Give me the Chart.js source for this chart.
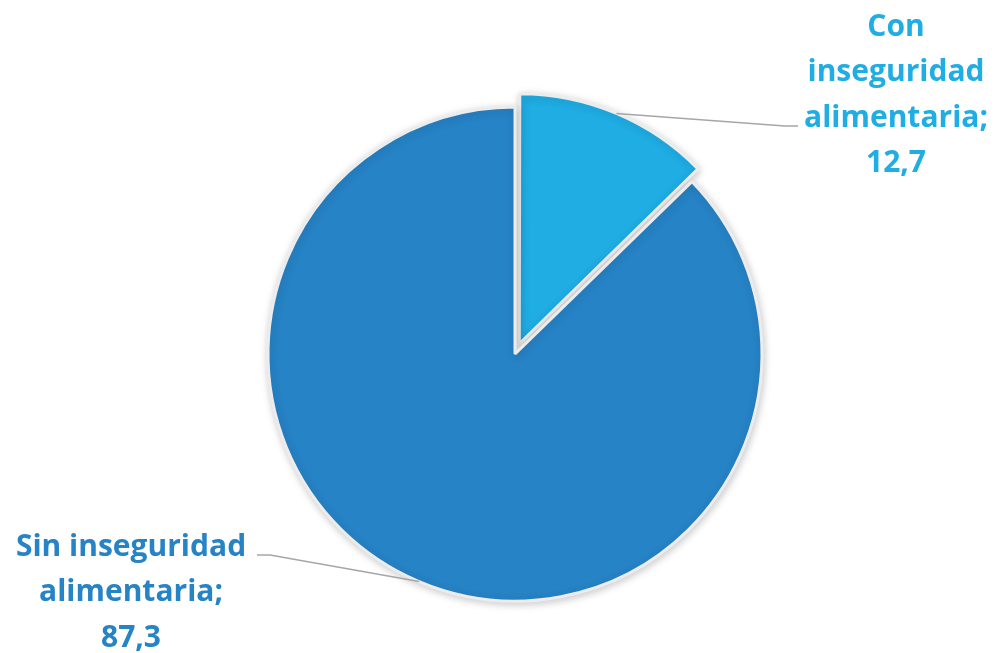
<!DOCTYPE html>
<html>
<head>
<meta charset="utf-8">
<script src="https://cdn.jsdelivr.net/npm/chart.js@4.4.1/dist/chart.umd.min.js"></script>
<style>
  html, body { margin: 0; padding: 0; background: #fff; }
  #wrap { width: 996px; height: 653px; }
</style>
</head>
<body>
<div id="wrap"><canvas id="pie" width="996" height="653"></canvas></div>
<script>
// Chart data
const categories = ['Con inseguridad alimentaria', 'Sin inseguridad alimentaria'];
const values = [12.7, 87.3];
const labelLines = [
    ['Con', 'inseguridad', 'alimentaria;'],
    ['Sin inseguridad', 'alimentaria;']
];
const sliceColors = ['#1FADE4', '#2683C6'];
const sliceOffsets = [44, 0];

// Where each label block sits and where its leader line bends
const labelBoxes = [
    { x: 896, y: 27, elbow: [785, 126], end: [798, 126] },
    { x: 131, y: 547, elbow: [270, 555], end: [257, 555] }
];

function formatValue(v) {
    return v.toFixed(1).replace('.', ',');
}

// Soft shadow under the pie
const shadowPlugin = {
    id: 'shadow',
    beforeDatasetsDraw(chart) {
        const ctx = chart.ctx;
        ctx.save();
        ctx.shadowColor = 'rgba(0,0,0,0.2)';
        ctx.shadowBlur = 8;
        ctx.shadowOffsetX = 1;
        ctx.shadowOffsetY = 2;
    },
    afterDatasetsDraw(chart) {
        chart.ctx.restore();
    }
};

// Outside labels with leader lines
const outsideLabels = {
    id: 'outsideLabels',
    afterDatasetsDraw(chart) {
        const ctx = chart.ctx;
        const meta = chart.getDatasetMeta(0);
        meta.data.forEach((arc, i) => {
            const mid = (arc.startAngle + arc.endAngle) / 2;
            const off = (sliceOffsets[i] || 0) / 4;
            const fix = 1 - Math.sin(Math.min(Math.PI, arc.circumference || 0));
            const shift = off + off * fix;
            const sx = arc.x + Math.cos(mid) * (arc.outerRadius + shift);
            const sy = arc.y + Math.sin(mid) * (arc.outerRadius + shift);
            const box = labelBoxes[i];

            ctx.save();
            ctx.strokeStyle = '#a6a6a6';
            ctx.lineWidth = 1.5;
            ctx.beginPath();
            ctx.moveTo(sx, sy);
            ctx.lineTo(box.elbow[0], box.elbow[1]);
            ctx.lineTo(box.end[0], box.end[1]);
            ctx.stroke();

            const lines = labelLines[i].concat([formatValue(values[i])]);
            ctx.fillStyle = sliceColors[i];
            ctx.font = 'bold 30px "Open Sans", sans-serif';
            ctx.textAlign = 'center';
            ctx.textBaseline = 'middle';
            lines.forEach((t, k) => {
                ctx.fillText(t, box.x, box.y + k * 45.5);
            });
            ctx.restore();
        });
    }
};

new Chart(document.getElementById('pie'), {
    type: 'pie',
    data: {
        labels: categories,
        datasets: [{
            data: values,
            backgroundColor: sliceColors,
            borderColor: '#ececec',
            borderWidth: 3,
            offset: sliceOffsets
        }]
    },
    options: {
        responsive: false,
        animation: false,
        devicePixelRatio: 1,
        radius: 247,
        layout: { padding: { left: 34, right: 0, top: 55, bottom: 0 } },
        plugins: {
            legend: { display: false },
            tooltip: { enabled: false }
        }
    },
    plugins: [shadowPlugin, outsideLabels]
});
</script>
</body>
</html>
